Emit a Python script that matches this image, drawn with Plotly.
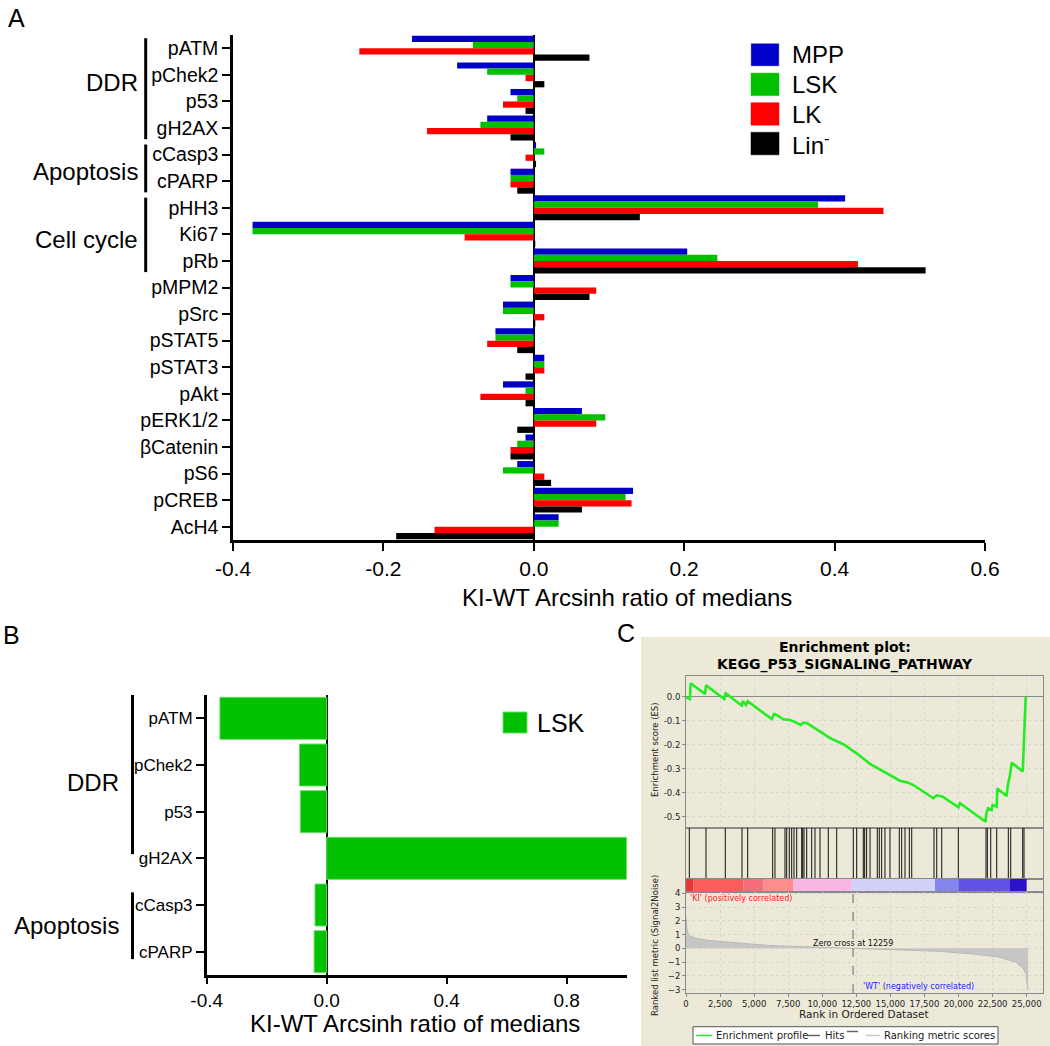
import plotly.graph_objects as go

W, H = 1050, 1046
def X(px): return px / W
def Y(py): return 1 - py / H

# ---------------- Panel A data ----------------
markers_a = ["pATM", "pChek2", "p53", "gH2AX", "cCasp3", "cPARP", "pHH3", "Ki67", "pRb",
             "pMPM2", "pSrc", "pSTAT5", "pSTAT3", "pAkt", "pERK1/2", "βCatenin", "pS6",
             "pCREB", "AcH4"]
mpp = [-0.162, -0.102, -0.031, -0.062, 0.003, -0.031, 0.414, -0.374, 0.204,
       -0.031, -0.041, -0.051, 0.014, -0.041, 0.064, -0.011, -0.022, 0.132, 0.033]
lsk = [-0.081, -0.062, -0.022, -0.071, 0.014, -0.031, 0.378, -0.374, 0.244,
       -0.031, -0.041, -0.051, 0.014, -0.011, 0.095, -0.022, -0.041, 0.122, 0.033]
lk = [-0.232, -0.011, -0.041, -0.142, -0.011, -0.031, 0.465, -0.092, 0.431,
      0.083, 0.014, -0.062, 0.014, -0.071, 0.083, -0.031, 0.014, 0.130, -0.132]
lin = [0.074, 0.014, -0.011, -0.031, 0.003, -0.022, 0.141, 0.002, 0.521,
       0.074, 0.002, -0.022, -0.011, -0.011, -0.022, -0.031, 0.023, 0.064, -0.183]
series_names = ["MPP", "LSK", "LK", "Lin<sup>-</sup>"]
series_colors = ["#0000c8", "#00c000", "#ff0000", "#000000"]
groups_a = [("DDR", 0, 3), ("Apoptosis", 4, 5), ("Cell cycle", 6, 8)]
xticks_a = [-0.4, -0.2, 0.0, 0.2, 0.4, 0.6]
xticktext_a = ["-0.4", "-0.2", "0.0", "0.2", "0.4", "0.6"]

# ---------------- Panel B data ----------------
markers_b = ["pATM", "pChek2", "p53", "gH2AX", "cCasp3", "cPARP"]
lsk_b = [-0.356, -0.091, -0.088, 1.0, -0.039, -0.042]
groups_b = [("DDR", 0, 3), ("Apoptosis", 4, 5)]
xticks_b = [-0.4, 0.0, 0.4, 0.8]
xticktext_b = ["-0.4", "0.0", "0.4", "0.8"]

# ---------------- Panel C data ----------------
es_rank = [0, 290, 340, 1395, 1470, 2810, 2910, 4085, 4160, 4400, 4525, 6290, 6460, 6650,
           7140, 7630, 7925, 8415, 8610, 8900, 9590, 10570, 11545, 12525, 13500, 14970,
           15700, 16310, 16680, 18150, 18400, 18840, 19990, 20110, 21980, 22030, 22160,
           22430, 22500, 22800, 22845, 23530, 23610, 23780, 23900, 24710, 24760, 24800, 24930]
es_val = [-0.003, -0.010, 0.056, 0.011, 0.047, -0.010, 0.014, -0.037, -0.019, -0.035, -0.019,
          -0.093, -0.072, -0.076, -0.094, -0.097, -0.104, -0.118, -0.108, -0.111, -0.136,
          -0.173, -0.198, -0.236, -0.280, -0.326, -0.350, -0.358, -0.368, -0.423, -0.411,
          -0.417, -0.461, -0.444, -0.521, -0.490, -0.465, -0.472, -0.451, -0.458, -0.382,
          -0.414, -0.372, -0.324, -0.275, -0.312, -0.229, -0.146, 0.0]
hit_ranks = [242, 1467, 2883, 4109, 4527, 6361, 6530, 7264, 7389, 7580, 7756, 7925, 8123,
             8490, 8563, 8659, 8857, 9224, 9466, 9833, 10442, 11058, 12276, 12525, 13010,
             13112, 13257, 13505, 14038, 14185, 14358, 14602, 14969, 15653, 15829, 16071,
             16389, 16565, 18199, 18399, 18766, 19984, 22015, 22113, 22362, 22802, 23654,
             23830, 24709, 24804]
metric_rank = [0, 30, 80, 170, 400, 800, 1500, 2500, 3700, 5000, 6100, 7500, 8600, 10500,
               12259, 14000, 16000, 18500, 21000, 23000, 24200, 24700, 24950, 25050, 25100]
metric_val = [2.3, 1.9, 1.4, 1.0, 0.85, 0.72, 0.6, 0.5, 0.4, 0.3, 0.21, 0.16, 0.12, 0.06,
              0.0, -0.06, -0.12, -0.21, -0.4, -0.64, -1.0, -1.4, -1.83, -2.4, -3.0]
zero_cross = 12259
cb_start = [0, 538, 4207, 5674, 7876, 12157, 18272, 19985, 23777]
cb_end = [538, 4207, 5674, 7876, 12157, 18272, 19985, 23777, 25000]
cb_colors = ["#e63a3a", "#fb5c5c", "#f46e7c", "#ff8c8c", "#f8b6e4", "#d2d2f8",
             "#8585f2", "#5f52e4", "#2c12c8"]
rank_ticks = [0, 2500, 5000, 7500, 10000, 12500, 15000, 17500, 20000, 22500, 25000]
es_ticks = [0.0, -0.1, -0.2, -0.3, -0.4, -0.5]
es_ticktext = ["0.0", "-0.1", "-0.2", "-0.3", "-0.4", "-0.5"]
metric_ticks = [4, 3, 2, 1, 0, -1, -2, -3]

ARIAL = "Arial, Liberation Sans, sans-serif"
JAVA = "DejaVu Sans, sans-serif"

fig = go.Figure()

# Panel A bars
pos_a = list(range(len(markers_a)))
for name, vals, col in zip(series_names, [mpp, lsk, lk, lin], series_colors):
    fig.add_trace(go.Bar(x=vals, y=pos_a, orientation="h", name=name, marker_color=col,
                         marker_line_width=0, xaxis="x", yaxis="y", showlegend=False))

# Panel B bars
pos_b = list(range(len(markers_b)))
fig.add_trace(go.Bar(x=lsk_b, y=pos_b, orientation="h", width=0.9, marker_color="#00c000",
                     marker_line=dict(color="#66e066", width=1), xaxis="x2", yaxis="y2",
                     showlegend=False))

# Panel C: ES curve
fig.add_trace(go.Scatter(x=es_rank, y=es_val, mode="lines", line=dict(color="#22ee22", width=2.6),
                         xaxis="x3", yaxis="y3", showlegend=False))
# hits
hx, hy = [], []
for r in hit_ranks:
    hx += [r, r, None]
    hy += [0, 1, None]
fig.add_trace(go.Scatter(x=hx, y=hy, mode="lines", line=dict(color="#111111", width=1),
                         xaxis="x4", yaxis="y4", showlegend=False))
# color bar
fig.add_trace(go.Bar(x=[e - s for s, e in zip(cb_start, cb_end)], base=cb_start,
                     y=[0] * len(cb_start), orientation="h", width=1,
                     marker=dict(color=cb_colors, line_width=0), xaxis="x5", yaxis="y5",
                     showlegend=False))
# ranked metric
fig.add_trace(go.Scatter(x=metric_rank, y=metric_val, mode="lines", fill="tozeroy",
                         line=dict(color="#b8b8b8", width=1), fillcolor="#c6c6c6",
                         xaxis="x6", yaxis="y6", showlegend=False))
fig.add_trace(go.Scatter(x=[zero_cross, zero_cross], y=[-3.24, 4.09], mode="lines",
                         line=dict(color="#666666", width=1, dash="dash"),
                         xaxis="x6", yaxis="y6", showlegend=False))

c_xrange = [0, 26220]
blackline = dict(showline=True, linecolor="black", linewidth=2.5, ticks="outside",
                 tickwidth=2, tickcolor="black", showgrid=False, automargin=False)
grayframe = dict(showline=True, mirror=True, linecolor="#8a8a8a", linewidth=1, automargin=False)

fig.update_layout(
    width=W, height=H, margin=dict(l=0, r=0, t=0, b=0, pad=0, autoexpand=False),
    showlegend=False,
    paper_bgcolor="white", plot_bgcolor="white",
    barmode="group", bargap=0.06, bargroupgap=0,
    font=dict(family=ARIAL, color="black"),
    xaxis=dict(domain=[X(233), X(985)], range=[-0.4, 0.6], tickvals=xticks_a,
               ticktext=xticktext_a, tickfont=dict(size=21), zeroline=True, ticklen=8,
               zerolinecolor="black", zerolinewidth=2, anchor="y", **blackline),
    yaxis=dict(domain=[Y(540), Y(35)], range=[18.5, -0.5], tickvals=pos_a, ticklen=8,
               ticktext=markers_a, tickfont=dict(size=19.5), zeroline=False, anchor="x",
               **blackline),
    xaxis2=dict(domain=[X(206.7), X(626.7)], range=[-0.4, 1.0], tickvals=xticks_b,
                ticktext=xticktext_b, tickfont=dict(size=19), zeroline=True, ticklen=6,
                zerolinecolor="black", zerolinewidth=2, anchor="y2", **blackline),
    yaxis2=dict(domain=[Y(975), Y(695)], range=[5.5, -0.5], tickvals=pos_b, ticklen=8,
                ticktext=markers_b, tickfont=dict(size=17), zeroline=False, anchor="x2",
                **blackline),
    xaxis3=dict(domain=[X(686), X(1043.3)], range=c_xrange, anchor="y3", tickvals=rank_ticks,
                showticklabels=False, showgrid=True, gridcolor="#d6d6d6", griddash="dot",
                zeroline=False, **grayframe),
    yaxis3=dict(domain=[Y(828), Y(676)], range=[-0.547, 0.086], anchor="x3",
                tickvals=es_ticks, ticktext=es_ticktext, tickfont=dict(size=8.5, family=JAVA, color="#222"),
                ticks="outside", ticklen=3, tickcolor="#8a8a8a",
                showgrid=True, gridcolor="#d6d6d6", griddash="dot",
                zeroline=True, zerolinecolor="#8a8a8a", zerolinewidth=1, **grayframe),
    xaxis4=dict(domain=[X(686), X(1043.3)], range=c_xrange, anchor="y4",
                showticklabels=False, showgrid=False, zeroline=False, **grayframe),
    yaxis4=dict(domain=[Y(879), Y(828)], range=[0, 1], anchor="x4", showticklabels=False,
                showgrid=False, zeroline=False, **grayframe),
    xaxis5=dict(domain=[X(686), X(1043.3)], range=c_xrange, anchor="y5",
                showticklabels=False, showgrid=False, zeroline=False, **grayframe),
    yaxis5=dict(domain=[Y(892), Y(879)], range=[-0.5, 0.5], anchor="x5", showticklabels=False,
                showgrid=False, zeroline=False, **grayframe),
    xaxis6=dict(domain=[X(686), X(1043.3)], range=c_xrange, anchor="y6", tickvals=rank_ticks,
                tickformat=",d", tickangle=0, tickfont=dict(size=8.5, family=JAVA, color="#222"),
                ticks="outside", ticklen=3, tickcolor="#8a8a8a",
                showgrid=True, gridcolor="#d6d6d6", griddash="dot", zeroline=False, **grayframe),
    yaxis6=dict(domain=[Y(993), Y(892)], range=[-3.24, 4.09], anchor="x6", tickvals=metric_ticks,
                tickfont=dict(size=8.5, family=JAVA, color="#222"),
                ticks="outside", ticklen=3, tickcolor="#8a8a8a",
                showgrid=True, gridcolor="#d6d6d6", griddash="dot", zeroline=False, **grayframe),
)

shapes = []
ann = []

# Beige background of panel C
shapes.append(dict(type="rect", xref="paper", yref="paper", x0=X(641), x1=X(1050),
                   y0=Y(1046), y1=Y(637), fillcolor="#ece9d8", line_width=0, layer="below"))

# Panel A group brackets & labels
label_pos_a = [1.28, 4.62, 7.2]
for (label, i0, i1), lp in zip(groups_a, label_pos_a):
    a0, a1 = i0 - 0.38, i1 + 0.42
    shapes.append(dict(type="line", xref="paper", yref="y", x0=X(145.7), x1=X(145.7),
                       y0=a0, y1=a1, line=dict(color="black", width=3)))
    ann.append(dict(xref="paper", yref="y", x=X(139.5), y=lp, text=label,
                    showarrow=False, xanchor="right", yanchor="middle",
                    font=dict(size=24, family=ARIAL)))

# Panel B group brackets & labels
label_pos_b = [1.37, 4.43]
for (label, i0, i1), lp in zip(groups_b, label_pos_b):
    if i0 == 0:
        a0, a1 = i0 - 0.58, i1 - 0.09
    else:
        a0, a1 = i0 - 0.27, i1 + 0.16
    shapes.append(dict(type="line", xref="paper", yref="y2", x0=X(132.5), x1=X(132.5),
                       y0=a0, y1=a1, line=dict(color="black", width=3)))
    ann.append(dict(xref="paper", yref="y2", x=X(121), y=lp, text=label,
                    showarrow=False, xanchor="right", yanchor="middle",
                    font=dict(size=24, family=ARIAL)))

# Panel A legend
for k, (name, col) in enumerate(zip(series_names, series_colors)):
    top = 43.5 + 29.6 * k
    shapes.append(dict(type="rect", xref="paper", yref="paper", x0=X(751), x1=X(779),
                       y0=Y(top + 22.5), y1=Y(top), fillcolor=col,
                       line=dict(color="#9090c0" if k == 0 else col, width=0.5)))
    ann.append(dict(xref="paper", yref="paper", x=X(790), y=Y(top + 11.5), text=name,
                    showarrow=False, xanchor="left", yanchor="middle",
                    font=dict(size=24, family=ARIAL)))

# Panel B legend
shapes.append(dict(type="rect", xref="paper", yref="paper", x0=X(503), x1=X(527),
                   y0=Y(733), y1=Y(712), fillcolor="#00c000", line=dict(color="#66e066", width=1)))
ann.append(dict(xref="paper", yref="paper", x=X(535), y=Y(723), text="LSK", showarrow=False,
                xanchor="left", yanchor="middle", font=dict(size=25, family=ARIAL)))

# Axis titles A/B
ann.append(dict(xref="paper", yref="paper", x=X(627), y=Y(597), text="KI-WT Arcsinh ratio of medians",
                showarrow=False, xanchor="center", yanchor="middle", font=dict(size=24, family=ARIAL)))
ann.append(dict(xref="paper", yref="paper", x=X(415), y=Y(1023), text="KI-WT Arcsinh ratio of medians",
                showarrow=False, xanchor="center", yanchor="middle", font=dict(size=24, family=ARIAL)))

# Panel letters
for letter, px, py in [("A", 16, 18), ("B", 11, 635), ("C", 626, 633)]:
    ann.append(dict(xref="paper", yref="paper", x=X(px), y=Y(py), text=letter, showarrow=False,
                    xanchor="center", yanchor="middle", font=dict(size=25, family=ARIAL)))

# Panel C title
ann.append(dict(xref="paper", yref="paper", x=X(845), y=Y(647), text="<b>Enrichment plot:</b>",
                showarrow=False, xanchor="center", yanchor="middle", font=dict(size=14, family=JAVA)))
ann.append(dict(xref="paper", yref="paper", x=X(845), y=Y(664), text="<b>KEGG_P53_SIGNALING_PATHWAY</b>",
                showarrow=False, xanchor="center", yanchor="middle", font=dict(size=14, family=JAVA)))
# Panel C y titles
ann.append(dict(xref="paper", yref="paper", x=X(655), y=Y(750), text="Enrichment score (ES)",
                showarrow=False, textangle=-90, xanchor="center", yanchor="middle",
                font=dict(size=8.5, family=JAVA, color="#222")))
ann.append(dict(xref="paper", yref="paper", x=X(655), y=Y(946), text="Ranked list metric (Signal2Noise)",
                showarrow=False, textangle=-90, xanchor="center", yanchor="middle",
                font=dict(size=8.5, family=JAVA, color="#222")))
ann.append(dict(xref="paper", yref="paper", x=X(864), y=Y(1014), text="Rank in Ordered Dataset",
                showarrow=False, xanchor="center", yanchor="middle", font=dict(size=10.5, family=JAVA, color="#222")))
# Ranked plot labels
ann.append(dict(xref="x6", yref="y6", x=150, y=3.62, text="'KI' (positively correlated)",
                showarrow=False, xanchor="left", yanchor="middle", font=dict(size=8, family=JAVA, color="#ff2020")))
ann.append(dict(xref="x6", yref="y6", x=zero_cross, y=0.36, text="Zero cross at %d" % zero_cross,
                showarrow=False, xanchor="center", yanchor="middle", font=dict(size=8, family=JAVA, color="#111")))
ann.append(dict(xref="x6", yref="y6", x=17080, y=-2.79, text="'WT' (negatively correlated)",
                showarrow=False, xanchor="center", yanchor="middle", font=dict(size=8, family=JAVA, color="#2020ff")))

# Panel C legend
shapes.append(dict(type="rect", xref="paper", yref="paper", x0=X(693), x1=X(998),
                   y0=Y(1044), y1=Y(1026.7), fillcolor="white", line=dict(color="#555", width=1)))
for x0, x1, yy, col in [(696, 712, 1035.5, "#22ee22"), (808, 820, 1035.5, "#666666"),
                        (847, 858, 1031.5, "#666666"), (866, 880, 1035.5, "#c8c8c8")]:
    shapes.append(dict(type="line", xref="paper", yref="paper", x0=X(x0), x1=X(x1),
                       y0=Y(yy), y1=Y(yy), line=dict(color=col, width=1.5)))
for tx, txt in [(713.5, "Enrichment profile"), (823, "Hits"), (882, "Ranking metric scores")]:
    ann.append(dict(xref="paper", yref="paper", x=X(tx), y=Y(1035.5), text=txt, showarrow=False,
                    xanchor="left", yanchor="middle", font=dict(size=10, family=JAVA, color="#222")))

fig.update_layout(shapes=shapes, annotations=ann)
fig.write_html("out.html", config={"displayModeBar": False},
               post_script="document.body.style.margin='0';document.body.style.overflow='hidden';")
